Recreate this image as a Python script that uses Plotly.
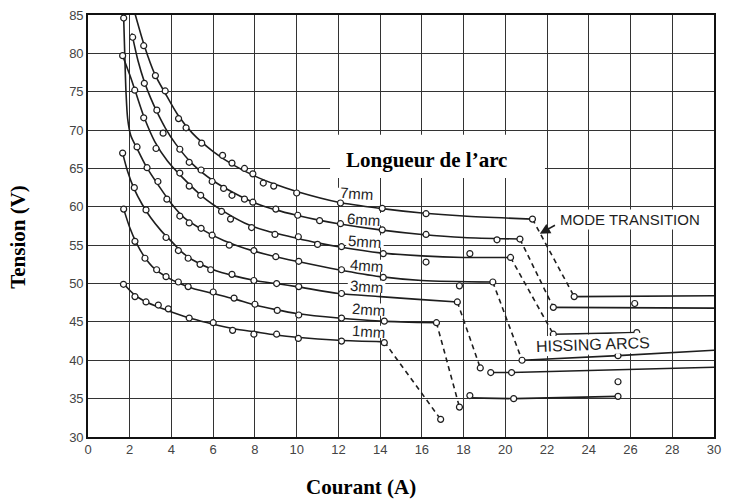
import plotly.graph_objects as go

# ---------------- data ----------------
x_ticks = list(range(0, 31, 2))
y_ticks = list(range(30, 86, 5))

# fitted (smooth) curves, stable-arc region
c1_x = [1.7, 2.2, 2.8, 3.4, 4.0, 5.0, 6.0, 7.0, 8.0, 9.0, 10.0, 12.0, 14.2]
c1_y = [50.0, 48.6, 47.6, 46.9, 46.3, 45.4, 44.7, 44.1, 43.7, 43.3, 43.0, 42.6, 42.4]
c2_x = [1.71, 2.0, 2.3, 2.7, 3.2, 3.8, 4.4, 5.0, 6.0, 7.0, 8.0, 9.0, 10.0, 12.0, 14.0, 16.7]
c2_y = [59.7, 57.3, 55.4, 53.5, 51.9, 50.8, 50.0, 49.4, 48.7, 48.0, 47.2, 46.6, 46.1, 45.5, 45.1, 44.9]
c3_x = [1.66, 1.9, 2.2, 2.6, 3.0, 3.5, 4.0, 4.5, 5.0, 6.0, 7.0, 8.0, 9.0, 10.0, 12.0, 14.0, 16.0, 17.7]
c3_y = [67.0, 64.6, 62.4, 60.3, 58.6, 56.9, 55.5, 54.1, 53.1, 51.8, 51.0, 50.4, 50.0, 49.6, 48.7, 48.3, 47.9, 47.6]
c4_x = [1.71, 1.76, 1.82, 1.9, 2.05, 2.35, 2.8, 3.4, 4.0, 4.6, 5.5, 6.5, 7.5, 9.0, 10.0, 12.0, 14.0, 16.0, 19.4]
c4_y = [84.6, 80.0, 75.0, 71.5, 69.3, 67.6, 65.2, 62.7, 60.4, 58.6, 57.0, 55.6, 54.6, 53.5, 52.9, 51.8, 50.9, 50.4, 50.2]
c5_x = [1.66, 2.0, 2.3, 2.7, 3.2, 3.8, 4.5, 5.5, 6.5, 7.5, 8.5, 10.0, 11.0, 12.0, 14.0, 16.0, 18.0, 20.25]
c5_y = [79.7, 77.2, 74.8, 71.6, 68.5, 66.0, 63.9, 61.3, 59.4, 57.9, 56.9, 55.9, 55.3, 54.8, 54.0, 53.6, 53.4, 53.4]
c6_x = [2.1, 2.4, 2.7, 3.0, 3.3, 3.7, 4.2, 5.0, 6.0, 7.0, 8.0, 9.0, 10.0, 11.0, 12.0, 14.0, 16.0, 18.0, 20.7]
c6_y = [82.6, 79.0, 76.3, 74.2, 72.4, 70.3, 68.2, 65.6, 63.4, 61.8, 60.5, 59.6, 58.9, 58.3, 57.8, 57.0, 56.4, 56.0, 55.8]
c7_x = [2.25, 2.7, 3.2, 3.7, 4.3, 5.0, 6.0, 7.0, 8.0, 9.0, 10.0, 12.0, 14.0, 16.0, 18.0, 21.3]
c7_y = [85.2, 81.0, 77.3, 74.8, 72.0, 69.6, 67.2, 65.4, 64.0, 62.9, 62.0, 60.6, 59.8, 59.2, 58.8, 58.4]

# measured points
m1_x = [1.7, 2.25, 2.78, 3.37, 3.85, 4.85, 6.0, 6.93, 7.95, 9.04, 10.08, 12.15, 14.2]
m1_y = [49.9, 48.3, 47.6, 47.2, 46.7, 45.5, 44.9, 43.9, 43.4, 43.4, 42.85, 42.5, 42.3]
m2_x = [1.71, 2.25, 2.73, 3.29, 3.74, 4.33, 4.8, 6.0, 7.0, 8.0, 9.07, 10.1, 12.15, 14.2, 16.7]
m2_y = [59.7, 55.5, 53.3, 51.8, 50.9, 50.2, 49.6, 48.9, 48.1, 47.3, 46.5, 45.9, 45.5, 45.1, 44.9]
m3_x = [1.66, 2.22, 2.78, 3.74, 4.33, 4.8, 5.37, 5.88, 6.9, 7.95, 9.04, 10.1, 12.15, 17.7]
m3_y = [67.0, 62.5, 59.6, 56.0, 54.3, 53.3, 52.5, 51.8, 51.2, 50.4, 50.0, 49.6, 48.7, 47.6]
m4_x = [1.71, 2.35, 2.83, 3.35, 3.78, 4.4, 4.85, 5.42, 5.95, 6.77, 7.95, 9.0, 10.1, 12.15, 14.15, 17.8, 19.4]
m4_y = [84.6, 67.8, 65.1, 63.3, 61.0, 58.8, 57.9, 57.2, 56.3, 55.0, 54.3, 53.5, 52.9, 51.8, 50.8, 49.7, 50.2]
m5_x = [1.66, 2.24, 2.67, 3.26, 4.4, 4.85, 5.4, 6.4, 6.83, 7.84, 8.96, 10.08, 11.0, 12.15, 14.15, 16.2, 18.3, 20.25]
m5_y = [79.7, 75.2, 71.6, 67.6, 64.4, 62.7, 61.5, 59.4, 58.4, 57.3, 56.4, 56.1, 55.1, 54.8, 53.9, 52.8, 53.9, 53.4]
m6_x = [2.14, 2.7, 3.3, 3.6, 4.4, 4.85, 5.42, 5.95, 6.5, 6.9, 7.5, 7.9, 9.0, 10.05, 11.1, 12.1, 14.1, 16.2, 19.6, 20.7]
m6_y = [82.1, 76.1, 72.6, 69.6, 67.5, 65.8, 64.8, 63.3, 62.4, 61.5, 61.0, 60.6, 59.7, 58.9, 58.2, 57.8, 57.0, 56.4, 55.7, 55.8]
m7_x = [2.67, 3.23, 3.7, 4.34, 4.7, 5.45, 6.45, 6.9, 7.5, 7.9, 8.4, 8.9, 10.0, 12.1, 14.1, 16.2, 21.3]
m7_y = [81.0, 77.1, 75.1, 71.5, 70.3, 68.3, 66.7, 65.7, 65.0, 64.3, 63.1, 62.7, 61.8, 60.5, 59.8, 59.1, 58.4]

# mode transitions (dashed), one per arc length 1..7 mm
t_x0 = [14.2, 16.7, 17.7, 19.4, 20.25, 20.7, 21.3]
t_y0 = [42.4, 44.9, 47.6, 50.2, 53.4, 55.8, 58.4]
t_x1 = [16.9, 17.8, 18.8, 20.8, 22.3, 22.3, 23.3]
t_y1 = [32.3, 33.9, 39.0, 40.0, 43.4, 46.9, 48.3]

# hissing-arc branches
h2_x = [18.3, 20.4, 25.4]; h2_y = [35.1, 35.0, 35.3]
h3_x = [19.3, 20.3, 30.0]; h3_y = [38.4, 38.4, 39.1]
h4_x = [20.8, 25.4, 30.0]; h4_y = [40.0, 40.6, 41.3]
h5_x = [22.3, 26.3];       h5_y = [43.4, 43.6]
h6_x = [22.3, 30.0];       h6_y = [46.9, 46.8]
h7_x = [23.3, 30.0];       h7_y = [48.3, 48.4]
hm_x = [16.9, 17.8, 18.8, 18.3, 20.4, 25.4, 19.3, 20.3, 25.4, 20.8, 25.4, 22.3, 26.3, 22.3, 26.2, 23.3]
hm_y = [32.3, 33.9, 39.0, 35.4, 35.0, 35.3, 38.4, 38.4, 37.2, 40.0, 40.6, 43.4, 43.6, 46.9, 47.4, 48.3]

labels = ["1mm", "2mm", "3mm", "4mm", "5mm", "6mm", "7mm"]
label_x = [13.43, 13.43, 13.35, 13.35, 13.27, 13.2, 12.85]
label_y = [43.7, 46.6, 49.6, 52.3, 55.5, 58.4, 61.7]

# ---------------- figure ----------------
INK = "#1e1e1e"
fig = go.Figure()

curves = [(c1_x, c1_y), (c2_x, c2_y), (c3_x, c3_y), (c4_x, c4_y),
          (c5_x, c5_y), (c6_x, c6_y), (c7_x, c7_y)]
for cx, cy in curves:
    fig.add_trace(go.Scatter(x=cx, y=cy, mode="lines",
                             line=dict(color=INK, width=1.6, shape="spline", smoothing=0.8),
                             hoverinfo="skip"))

for i in range(len(t_x0)):
    fig.add_trace(go.Scatter(x=[t_x0[i], t_x1[i]], y=[t_y0[i], t_y1[i]], mode="lines",
                             line=dict(color=INK, width=1.6, dash="5px,4px"),
                             hoverinfo="skip"))

for hx, hy in [(h2_x, h2_y), (h3_x, h3_y), (h4_x, h4_y), (h5_x, h5_y), (h6_x, h6_y), (h7_x, h7_y)]:
    fig.add_trace(go.Scatter(x=hx, y=hy, mode="lines",
                             line=dict(color=INK, width=1.6), hoverinfo="skip"))

marker_style = dict(symbol="circle", size=6, color="white", line=dict(color=INK, width=1.2))
for mx, my in [(m1_x, m1_y), (m2_x, m2_y), (m3_x, m3_y), (m4_x, m4_y), (m5_x, m5_y),
               (m6_x, m6_y), (m7_x, m7_y), (hm_x, hm_y)]:
    fig.add_trace(go.Scatter(x=mx, y=my, mode="markers", marker=marker_style, hoverinfo="skip"))

shapes = [dict(type="rect", xref="x", yref="y", x0=11.6, x1=21.9, y0=63.75, y1=69.4,
               fillcolor="white", line=dict(width=0), layer="between")]
for lx, ly in zip(label_x, label_y):
    shapes.append(dict(type="rect", xref="x", yref="y", x0=lx - 0.9, x1=lx + 0.9,
                       y0=ly - 0.8, y1=ly + 0.8, fillcolor="white",
                       line=dict(width=0), layer="between"))

annotations = []
for t, lx, ly in zip(labels, label_x, label_y):
    annotations.append(dict(x=lx, y=ly, xref="x", yref="y", text=t, showarrow=False,
                            textangle=4,
                            font=dict(family="Liberation Sans, Arial", size=15, color=INK)))

annotations += [
    dict(x=16.2, y=66.1, xref="x", yref="y", text="<b>Longueur de l\u2019arc</b>", showarrow=False,
         font=dict(family="Liberation Serif, Times New Roman", size=21, color="black")),
    dict(x=25.97, y=58.3, xref="x", yref="y", text="MODE TRANSITION", showarrow=False,
         bgcolor="white", borderpad=1,
         font=dict(family="Liberation Sans, Arial", size=15, color=INK)),
    dict(x=21.65, y=56.5, ax=22.45, ay=57.7, xref="x", yref="y", axref="x", ayref="y",
         text="", showarrow=True, arrowhead=2, arrowsize=1.3, arrowwidth=1.6, arrowcolor=INK),
    dict(x=24.2, y=42.0, xref="x", yref="y", text="HISSING ARCS", showarrow=False,
         bgcolor="white", borderpad=1, textangle=-2,
         font=dict(family="Liberation Sans, Arial", size=16, color=INK)),
    dict(x=0.436, y=-0.118, xref="paper", yref="paper", text="<b>Courant (A)</b>",
         showarrow=False, yanchor="middle",
         font=dict(family="Liberation Serif, Times New Roman", size=21, color="black")),
    dict(x=-0.112, y=0.474, xref="paper", yref="paper", text="<b>Tension (V)</b>",
         showarrow=False, textangle=-90, xanchor="center", yanchor="middle",
         font=dict(family="Liberation Serif, Times New Roman", size=21, color="black")),
]

axis_common = dict(showgrid=True, gridcolor="#333333", gridwidth=1.3, zeroline=False,
                   showline=True, linecolor="#111", linewidth=1.6, mirror=True,
                   ticks="", automargin=False,
                   tickfont=dict(family="Liberation Sans, Arial", size=13, color="#444"))

fig.update_layout(
    width=729, height=502,
    margin=dict(l=88, r=15, t=15, b=65, autoexpand=False),
    paper_bgcolor="white", plot_bgcolor="white",
    showlegend=False,
    shapes=shapes,
    annotations=annotations,
    xaxis=dict(range=[0, 30], tickvals=x_ticks, ticktext=[str(v) for v in x_ticks], **axis_common),
    yaxis=dict(range=[30, 85], tickvals=y_ticks, ticktext=[str(v) for v in y_ticks], **axis_common),
)

fig.write_html("out.html", config={"displayModeBar": False},
               post_script="document.body.style.margin='0';")
